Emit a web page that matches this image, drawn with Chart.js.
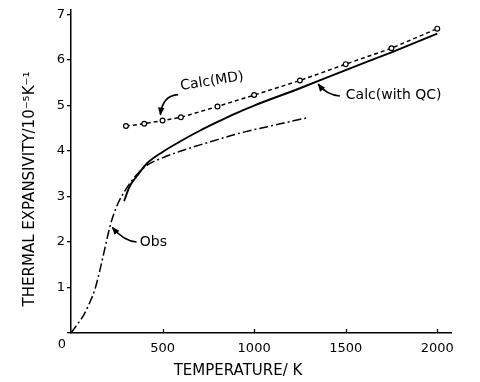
<!DOCTYPE html>
<html>
<head>
<meta charset="utf-8">
<script src="https://cdn.jsdelivr.net/npm/chart.js@4/dist/chart.umd.min.js"></script>
<style>
html,body{margin:0;padding:0;background:#fff;}
#wrap{width:480px;height:382px;position:relative;}
</style>
</head>
<body>
<div id="wrap"><canvas id="c" width="480" height="382"></canvas></div>
<script>
// ---- data ----
const xTicks = [0, 500, 1000, 1500, 2000];
const yTicks = [0, 1, 2, 3, 4, 5, 6, 7];

const mdTemps  = [300, 400, 500, 600, 800, 1000, 1250, 1500, 1750, 2000];
const mdValues = [4.55, 4.60, 4.67, 4.74, 4.98, 5.23, 5.55, 5.91, 6.26, 6.69];

const qcTemps  = [290, 320, 360, 413, 500, 600, 700, 800, 900, 1000, 1250, 1500, 1750, 2000];
const qcValues = [2.90, 3.22, 3.45, 3.72, 3.98, 4.22, 4.44, 4.64, 4.83, 5.00, 5.38, 5.78, 6.17, 6.58];

const obsTemps  = [0, 40, 70, 100, 130, 160, 190, 210, 230, 260, 295, 330, 370, 420, 500, 600, 700, 800, 900, 1000, 1100, 1200, 1300];
const obsValues = [0, 0.22, 0.40, 0.65, 0.95, 1.42, 1.95, 2.30, 2.57, 2.88, 3.13, 3.34, 3.53, 3.70, 3.85, 4.00, 4.13, 4.25, 4.37, 4.47, 4.56, 4.65, 4.74];

const seriesNames = ['Calc(MD)', 'Calc(with QC)', 'Obs'];
const xTitle = 'TEMPERATURE/ K';
const yTitle = 'THERMAL EXPANSIVITY/10\u207B\u2075K\u207B\u00B9';

// annotation labels: [text, labelX, labelY, arrowStartX, startY, ctrlX, ctrlY, tipX, tipY, rotationDeg]
const notes = [
  ['Calc(MD)',      770, 5.53,  585, 5.24,  500, 5.22,  488, 4.80, -9],
  ['Calc(with QC)', 1762, 5.22, 1468, 5.21, 1395, 5.24, 1350, 5.47, 0],
  ['Obs',           450, 2.00,  358, 2.00,  290, 2.02,  226, 2.32, 0]
];

const toPts = (xs, ys) => xs.map((x, i) => ({x: x, y: ys[i]}));
const FONT = '"DejaVu Sans", sans-serif';

const decor = {
  id: 'decor',
  afterDraw(chart) {
    const ctx = chart.ctx, xs = chart.scales.x, ys = chart.scales.y;
    ctx.save();
    ctx.fillStyle = '#000';
    ctx.strokeStyle = '#000';
    const y0 = ys.getPixelForValue(0);
    // inward x ticks and x tick labels
    ctx.lineWidth = 1.3;
    ctx.font = '13px ' + FONT;
    ctx.textAlign = 'center';
    ctx.textBaseline = 'middle';
    xTicks.forEach(v => {
      const px = xs.getPixelForValue(v);
      if (v !== 0) {
        ctx.beginPath();
        ctx.moveTo(Math.round(px) + 0.5, y0);
        ctx.lineTo(Math.round(px) + 0.5, y0 - 4);
        ctx.stroke();
        ctx.fillText(String(v), px, y0 + 16);
      } else {
        ctx.fillText('0', px - 9, y0 + 12);
      }
    });
    // axis titles
    ctx.font = '15px ' + FONT;
    ctx.fillText(xTitle, 238, 371);
    ctx.save();
    ctx.translate(30, 189);
    ctx.rotate(-Math.PI / 2);
    ctx.fillText(yTitle, 0, 0);
    ctx.restore();
    // annotations
    notes.forEach(n => {
      const [txt, lx, ly, sx, sy, cx, cy, tx, ty, rot] = n;
      const LX = xs.getPixelForValue(lx), LY = ys.getPixelForValue(ly);
      ctx.save();
      ctx.translate(LX, LY);
      ctx.rotate(rot * Math.PI / 180);
      ctx.font = '14px ' + FONT;
      ctx.textAlign = 'center';
      ctx.textBaseline = 'middle';
      ctx.fillText(txt, 0, 0);
      ctx.restore();
      const SX = xs.getPixelForValue(sx), SY = ys.getPixelForValue(sy);
      const CX = xs.getPixelForValue(cx), CY = ys.getPixelForValue(cy);
      const TX = xs.getPixelForValue(tx), TY = ys.getPixelForValue(ty);
      ctx.lineWidth = 1.6;
      ctx.beginPath();
      ctx.moveTo(SX, SY);
      ctx.quadraticCurveTo(CX, CY, TX, TY);
      ctx.stroke();
      const ang = Math.atan2(TY - CY, TX - CX);
      const L = 7, W = 3.2;
      ctx.beginPath();
      ctx.moveTo(TX + Math.cos(ang) * 1, TY + Math.sin(ang) * 1);
      ctx.lineTo(TX - Math.cos(ang) * L - Math.sin(ang) * W, TY - Math.sin(ang) * L + Math.cos(ang) * W);
      ctx.lineTo(TX - Math.cos(ang) * L + Math.sin(ang) * W, TY - Math.sin(ang) * L - Math.cos(ang) * W);
      ctx.closePath();
      ctx.fill();
    });
    ctx.restore();
  }
};

new Chart(document.getElementById('c'), {
  type: 'line',
  data: {
    datasets: [
      {
        label: seriesNames[0],
        data: toPts(mdTemps, mdValues),
        borderColor: '#000', borderWidth: 1.5, borderDash: [4, 3],
        pointRadius: 2.4, pointBorderWidth: 1.2, pointBackgroundColor: '#fff', pointBorderColor: '#000',
        tension: 0, fill: false, order: 1
      },
      {
        label: seriesNames[1],
        data: toPts(qcTemps, qcValues),
        borderColor: '#000', borderWidth: 1.9,
        pointRadius: 0, cubicInterpolationMode: 'monotone', fill: false, order: 2
      },
      {
        label: seriesNames[2],
        data: toPts(obsTemps, obsValues),
        borderColor: '#000', borderWidth: 1.5, borderDash: [9, 3, 2, 3],
        pointRadius: 0, cubicInterpolationMode: 'monotone', fill: false, order: 3
      }
    ]
  },
  options: {
    responsive: false,
    animation: false,
    devicePixelRatio: 1,
    layout: { padding: { left: 0, right: 29, top: 10, bottom: 0 } },
    plugins: { legend: { display: false }, tooltip: { enabled: false } },
    scales: {
      x: {
        type: 'linear', min: 0, max: 2075,
        afterFit: s => { s.height = 49; },
        border: { display: true, color: '#000', width: 1.5 },
        grid: { display: false, drawOnChartArea: false, drawTicks: false },
        ticks: { display: false, stepSize: 500, includeBounds: false }
      },
      y: {
        type: 'linear', min: 0, max: 7.1,
        afterFit: s => { s.width = 71; },
        border: { display: true, color: '#000', width: 1.5 },
        grid: { display: true, drawOnChartArea: false, drawTicks: true, tickLength: 4, color: '#000', lineWidth: 1.3 },
        ticks: {
          stepSize: 1, includeBounds: false, padding: 2, color: '#000',
          font: { family: FONT, size: 13 },
          callback: v => (yTicks.includes(v) && v !== 0) ? String(v) : ''
        }
      }
    }
  },
  plugins: [decor]
});
</script>
</body>
</html>
